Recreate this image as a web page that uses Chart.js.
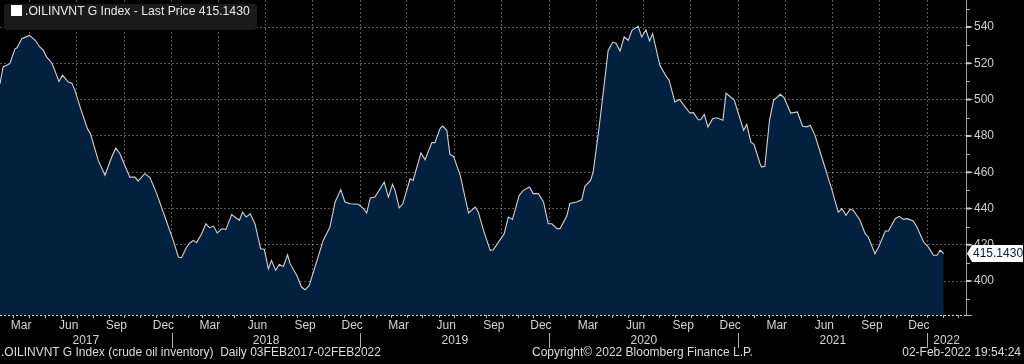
<!DOCTYPE html>
<html>
<head>
<meta charset="utf-8">
<script src="https://cdn.jsdelivr.net/npm/chart.js@4.4.1/dist/chart.umd.min.js"></script>
<style>
  html, body { margin: 0; padding: 0; background: #000; }
  #wrap { position: relative; width: 1024px; height: 364px; overflow: hidden; }
  #oilChart { position: absolute; left: 0; top: 0; }
  #legend {
    position: absolute; left: 4px; top: 4px; height: 26px; line-height: 26px;
    padding: 0 7px 0 7px; background: #1a1a1a; border-radius: 3px;
    color: #e8e8e8; font: 12.2px "Liberation Sans", Arial, sans-serif; white-space: nowrap;
  }
  #legend i { display: inline-block; width: 11px; height: 11px; background: #fff; margin-right: 3px; vertical-align: -1px; }
  .foot { position: absolute; top: 345px; color: #dcdcdc; font: 12px "Liberation Sans", Arial, sans-serif; white-space: nowrap; }
</style>
</head>
<body>
<div id="wrap">
  <canvas id="oilChart" width="1024" height="364"></canvas>
  <div id="legend"><i></i>.OILINVNT G Index - Last Price <span id="lastPx"></span></div>
  <div class="foot" style="left:1px">.OILINVNT G Index (crude oil inventory)&nbsp; Daily 03FEB2017-02FEB2022</div>
  <div class="foot" style="left:532px">Copyright© 2022 Bloomberg Finance L.P.</div>
  <div class="foot" style="right:3px">02-Feb-2022 19:54:24</div>
</div>
<script>
// crude oil inventory index
const dates = [
  "2017-02-03","2017-02-09","2017-02-22","2017-03-04","2017-03-08","2017-03-17","2017-04-01","2017-04-12",
  "2017-04-21","2017-04-28","2017-05-04","2017-05-14","2017-05-20","2017-05-28","2017-06-04","2017-06-15",
  "2017-06-22","2017-06-28","2017-07-08","2017-07-22","2017-07-28","2017-08-12","2017-08-25","2017-09-07",
  "2017-09-15","2017-09-23","2017-10-01","2017-10-12","2017-10-22","2017-10-28","2017-11-10","2017-11-20",
  "2017-12-03","2017-12-19","2018-01-04","2018-01-14","2018-01-20","2018-01-30","2018-02-05","2018-02-12",
  "2018-02-18","2018-02-28","2018-03-08","2018-03-15","2018-03-23","2018-03-30","2018-04-08","2018-04-16",
  "2018-04-27","2018-05-12","2018-05-18","2018-05-25","2018-06-02","2018-06-11","2018-06-22","2018-06-29",
  "2018-07-07","2018-07-13","2018-07-21","2018-07-28","2018-08-05","2018-08-13","2018-08-18","2018-08-31",
  "2018-09-09","2018-09-16","2018-09-24","2018-10-05","2018-10-21","2018-11-03","2018-11-13","2018-11-24",
  "2018-12-02","2018-12-12","2018-12-28","2019-01-07","2019-01-13","2019-01-20","2019-01-29","2019-02-08",
  "2019-02-16","2019-02-24","2019-03-04","2019-03-09","2019-03-17","2019-03-24","2019-04-07","2019-04-13",
  "2019-04-28","2019-05-06","2019-05-19","2019-05-25","2019-06-04","2019-06-09","2019-06-17","2019-06-23",
  "2019-06-30","2019-07-13","2019-07-29","2019-08-11","2019-08-17","2019-08-27","2019-09-09","2019-09-15",
  "2019-10-06","2019-10-14","2019-10-22","2019-11-04","2019-11-12","2019-11-24","2019-12-01","2019-12-11",
  "2019-12-21","2019-12-30","2020-01-06","2020-01-16","2020-01-22","2020-02-04","2020-02-10","2020-02-23",
  "2020-03-04","2020-03-10","2020-03-21","2020-03-26","2020-04-05","2020-04-15","2020-04-24","2020-05-03",
  "2020-05-09","2020-05-17","2020-05-25","2020-06-02","2020-06-09","2020-06-21","2020-06-28","2020-07-06",
  "2020-07-13","2020-07-19","2020-08-02","2020-08-12","2020-08-20","2020-08-31","2020-09-09","2020-09-20",
  "2020-09-29","2020-10-06","2020-10-15","2020-10-20","2020-10-27","2020-11-03","2020-11-12","2020-11-20",
  "2020-12-02","2020-12-08","2020-12-19","2020-12-24","2021-01-11","2021-01-17","2021-01-25","2021-01-31",
  "2021-02-12","2021-02-15","2021-02-21","2021-03-02","2021-03-10","2021-03-23","2021-03-30","2021-04-12",
  "2021-04-25","2021-05-05","2021-05-13","2021-05-20","2021-05-29","2021-06-14","2021-06-30","2021-07-13",
  "2021-07-20","2021-07-28","2021-08-05","2021-08-11","2021-08-24","2021-09-03","2021-09-09","2021-09-22",
  "2021-09-29","2021-10-12","2021-10-18","2021-10-31","2021-11-08","2021-11-16","2021-11-23","2021-12-05",
  "2021-12-12","2021-12-25","2022-01-03","2022-01-13","2022-01-20","2022-01-26","2022-02-02"
];
const values = [
  508.8, 518.0, 519.8, 528.0, 528.6, 533.6, 535.4, 532.7,
  529.0, 527.1, 523.5, 520.2, 516.1, 510.0, 513.4, 509.7,
  509.1, 505.1, 495.9, 484.0, 481.2, 466.5, 458.3, 468.4,
  473.3, 470.2, 464.7, 457.3, 457.3, 455.1, 459.2, 457.0,
  448.2, 435.3, 422.4, 413.3, 412.9, 418.8, 421.0, 422.4,
  421.2, 426.1, 431.6, 429.4, 430.3, 426.5, 428.8, 428.5,
  436.6, 433.5, 438.0, 435.3, 437.1, 431.6, 417.8, 417.6,
  406.8, 411.4, 405.9, 409.2, 408.1, 414.5, 409.6, 403.1,
  396.7, 395.2, 397.6, 407.7, 422.4, 429.8, 443.6, 450.4,
  443.6, 442.6, 442.3, 439.9, 437.5, 445.8, 446.3, 450.9,
  454.6, 446.3, 453.3, 450.0, 440.4, 442.6, 456.4, 455.5,
  470.6, 466.9, 476.3, 476.3, 484.0, 485.4, 483.1, 469.8,
  468.7, 458.3, 437.5, 440.8, 438.0, 427.9, 416.9, 417.3,
  426.1, 435.3, 434.0, 447.2, 450.0, 451.8, 448.2, 448.2,
  443.6, 431.6, 431.6, 428.9, 428.9, 435.8, 442.8, 443.6,
  444.8, 452.2, 455.5, 460.1, 481.2, 505.1, 527.1, 531.7,
  531.1, 526.8, 534.5, 532.7, 538.2, 540.4, 534.5, 538.5,
  532.3, 536.3, 518.9, 513.9, 510.6, 498.7, 500.1, 495.9,
  492.6, 492.8, 488.9, 488.9, 491.8, 484.9, 489.5, 490.0,
  488.6, 503.6, 500.9, 499.6, 483.1, 486.4, 476.6, 475.3,
  464.5, 462.8, 463.3, 488.6, 499.6, 502.9, 501.1, 492.6,
  493.2, 485.3, 485.0, 485.9, 480.3, 465.6, 450.9, 438.0,
  439.9, 436.3, 439.6, 439.0, 433.5, 426.1, 424.3, 415.1,
  418.8, 427.6, 427.6, 434.4, 435.7, 434.0, 434.4, 433.1,
  429.8, 421.5, 418.8, 414.2, 414.2, 417.0, 415.143
];
const yTicks = [400, 420, 440, 460, 480, 500, 520, 540];
const monthLabels = ["Mar", "Jun", "Sep", "Dec"];
const years = [2017, 2018, 2019, 2020, 2021, 2022];

const DAY = 864e5;
const start = Date.UTC(2017, 1, 3);
const dayOf = (y, m, d) => (Date.UTC(y, m, d) - start) / DAY;
const toDay = s => (Date.parse(s) - start) / DAY;

const points = dates.map((d, i) => ({ x: toDay(d), y: values[i] }));
const lastPrice = values[values.length - 1].toFixed(4);
document.getElementById("lastPx").textContent = lastPrice;

// quarter boundaries for the vertical grid
const quarterTicks = [];
years.forEach(y => [0, 3, 6, 9].forEach(m => {
  const d = dayOf(y, m, 1);
  if (d > 0 && d < 1868) quarterTicks.push({ value: d });
}));

const FONT = '"Liberation Sans", Arial, sans-serif';

const axisDecor = {
  id: "axisDecor",
  afterDraw(chart) {
    const { ctx, chartArea: a, scales: { x, y } } = chart;
    ctx.save();
    ctx.lineWidth = 1;

    // dashed bottom edge of the plot
    ctx.strokeStyle = "#d8d8d8";
    ctx.setLineDash([2, 2]);
    ctx.beginPath(); ctx.moveTo(a.left, a.bottom + 0.5); ctx.lineTo(a.right, a.bottom + 0.5); ctx.stroke();
    ctx.setLineDash([]);

    // month tick marks under the plot
    ctx.strokeStyle = "#b0b0b0";
    years.forEach(yr => {
      for (let m = 0; m < 12; m++) {
        const d = dayOf(yr, m, 1);
        if (d <= x.min || d >= x.max) continue;
        const px = Math.round(x.getPixelForValue(d)) + 0.5;
        ctx.beginPath(); ctx.moveTo(px, a.bottom); ctx.lineTo(px, a.bottom + 3); ctx.stroke();
      }
    });

    // month labels, centred in the month
    ctx.font = "12px " + FONT;
    ctx.fillStyle = "#d4d4d4";
    ctx.textAlign = "center";
    ctx.textBaseline = "middle";
    years.forEach(yr => {
      [2, 5, 8, 11].forEach((m, k) => {
        const mid = dayOf(yr, m, 16);
        if (mid < x.min || mid > x.max - 20) return;
        ctx.fillText(monthLabels[k], x.getPixelForValue(mid), a.bottom + 11);
      });
    });

    // year labels and separators
    years.forEach(yr => {
      const s = Math.max(dayOf(yr, 0, 1), x.min);
      const e = Math.min(dayOf(yr + 1, 0, 1), x.max);
      ctx.fillText(String(yr), (x.getPixelForValue(s) + x.getPixelForValue(e)) / 2, a.bottom + 26);
      const j = dayOf(yr, 0, 1);
      if (j > x.min) {
        const px = Math.round(x.getPixelForValue(j)) + 0.5;
        ctx.beginPath(); ctx.moveTo(px, a.bottom + 18); ctx.lineTo(px, a.bottom + 33); ctx.stroke();
      }
    });

    // right axis: minor ticks and arrow heads at major ticks
    for (let v = 390; v <= 550; v += 20) {
      const py = Math.round(y.getPixelForValue(v)) + 0.5;
      ctx.beginPath(); ctx.moveTo(a.right, py); ctx.lineTo(a.right + 4, py); ctx.stroke();
    }
    ctx.beginPath(); ctx.moveTo(a.right, a.bottom + 0.5); ctx.lineTo(a.right + 6, a.bottom + 0.5); ctx.stroke();
    ctx.fillStyle = "#c8c8c8";
    yTicks.forEach(v => {
      const py = y.getPixelForValue(v);
      ctx.beginPath();
      ctx.moveTo(a.right, py - 1); ctx.lineTo(a.right + 4, py - 1);
      ctx.lineTo(a.right + 7, py); ctx.lineTo(a.right + 4, py + 1);
      ctx.lineTo(a.right, py + 1); ctx.closePath(); ctx.fill();
    });

    // last price tag
    const ty = y.getPixelForValue(values[values.length - 1]);
    ctx.fillStyle = "#ffffff";
    ctx.beginPath();
    ctx.moveTo(a.right + 1, ty);
    ctx.lineTo(a.right + 6, ty - 8.5);
    ctx.lineTo(1023, ty - 8.5);
    ctx.lineTo(1023, ty + 8.5);
    ctx.lineTo(a.right + 6, ty + 8.5);
    ctx.closePath();
    ctx.fill();
    ctx.fillStyle = "#0a1a2e";
    ctx.textAlign = "left";
    ctx.font = "12px " + FONT;
    ctx.fillText(lastPrice, a.right + 7, ty + 0.5);
    ctx.restore();
  }
};

new Chart(document.getElementById("oilChart"), {
  type: "line",
  data: {
    datasets: [{
      data: points,
      borderColor: "#d2d2d2",
      borderWidth: 1.1,
      backgroundColor: "#03203e",
      fill: "start",
      pointRadius: 0,
      tension: 0
    }]
  },
  options: {
    responsive: false,
    animation: false,
    layout: { padding: 0 },
    plugins: { legend: { display: false }, tooltip: { enabled: false } },
    scales: {
      x: {
        type: "linear",
        min: 0,
        max: 1868,
        z: 1,
        afterBuildTicks: s => { s.ticks = quarterTicks.slice(); },
        afterFit: s => { s.height = 49; s.paddingLeft = 0; s.paddingRight = 0; },
        ticks: { display: false },
        grid: { color: "rgba(255,255,255,0.34)", drawTicks: false },
        border: { display: false, dash: [2, 2] }
      },
      y: {
        position: "right",
        min: 381.3,
        max: 554.9,
        z: 1,
        afterBuildTicks: s => { s.ticks = yTicks.map(v => ({ value: v })); },
        afterFit: s => { s.width = 58; s.paddingTop = 0; s.paddingBottom = 0; },
        ticks: { color: "#d0d0d0", font: { size: 12, family: FONT }, padding: 8 },
        grid: { color: "rgba(255,255,255,0.34)", drawTicks: false },
        border: { display: true, color: "#9a9a9a", dash: [2, 2] }
      }
    }
  },
  plugins: [axisDecor]
});
</script>
</body>
</html>
